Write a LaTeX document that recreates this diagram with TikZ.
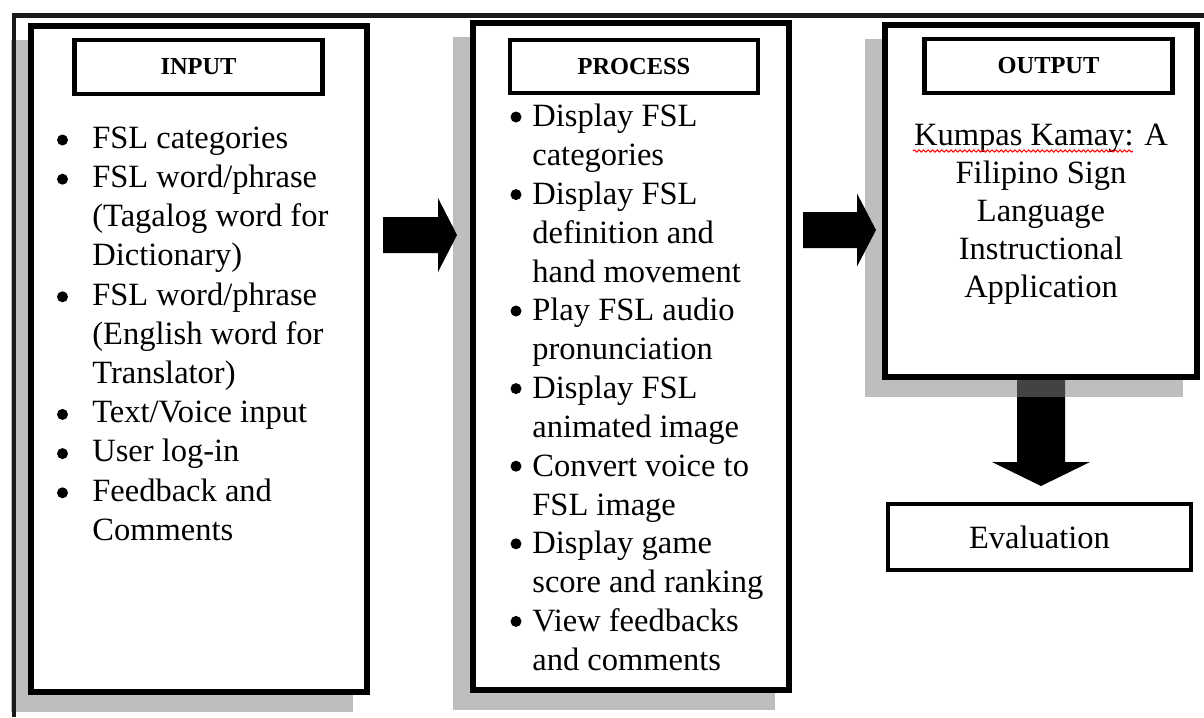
\documentclass[tikz,border=0pt]{standalone}
\usepackage{fontspec}
\setmainfont{Liberation Serif}
\usetikzlibrary{backgrounds,decorations.pathmorphing}

\newcommand{\itemfont}{\fontsize{18.5}{22.2}\selectfont}

\tikzstyle{bigbox}=[draw,line width=3.7pt,fill=white,inner sep=0pt]
\tikzstyle{headbox}=[draw,line width=2.5pt,fill=white,minimum width=4.96cm,minimum height=1.07cm,font=\fontsize{13.9}{16}\selectfont\bfseries]
\tikzstyle{item}=[anchor=base west,align=left,inner sep=0pt,font=\itemfont]
\tikzstyle{dot}=[circle,fill=black,inner sep=0pt,minimum size=0.22cm]
\tikzstyle{shade}=[fill=black!49,opacity=0.52]

\begin{document}
\begin{tikzpicture}[x=0.02cm,y=-0.02cm]
    \useasboundingbox (0,0) rectangle (1204,717);

    % frame round the whole thing
    \draw [line width=2.8pt,black!90] (14,717) -- (14,15.5) -- (1204,15.5);

    % the three columns
    \node (input) at (199,359) [bigbox,minimum width=6.72cm,minimum height=13.32cm] {};
    \node (process) at (631,356.5) [bigbox,minimum width=6.32cm,minimum height=13.34cm] {};
    \node (output) at (1041,201) [bigbox,minimum width=6.24cm,minimum height=7.04cm] {};

    \node (inhead) at (198.5,67) [headbox] {INPUT};
    \node (prochead) at (634,66.5) [headbox] {PROCESS};
    \node (outhead) at (1048.5,66) [headbox] {OUTPUT};

    % input list: bullet line / last line / text
    \foreach \k/\m/\txt [count=\i] in {0/0/{FSL categories}, 1/3/{FSL word/phrase\\(Tagalog word for\\Dictionary)}, 4/6/{FSL word/phrase\\(English word for\\Translator)}, 7/7/{Text/Voice input}, 8/8/{User log-in}, 9/10/{Feedback and\\Comments}}
    {
        \node (inb\i) at (62.5,{140+39.2*\k}) [dot] {};
        \node (in\i) at (92,{148+39.2*\m}) [item] {\txt};
    }

    % process list
    \foreach \k/\m/\txt [count=\i] in {0/1/{Display FSL\\categories}, 2/4/{Display FSL\\definition and\\hand movement}, 5/6/{Play FSL audio\\pronunciation}, 7/8/{Display FSL\\animated image}, 9/10/{Convert voice to\\FSL image}, 11/12/{Display game\\score and ranking}, 13/14/{View feedbacks\\and comments}}
    {
        \node (pb\i) at (516,{117+38.8*\k}) [dot] {};
        \node (p\i) at (532,{127+38.8*\m}) [item] {\txt};
    }

    % output text
    \node (title) at (1041,297) [anchor=base,align=center,inner sep=0pt,font=\fontsize{18.5}{21.6}\selectfont] {Kumpas Kamay: A\\Filipino Sign\\Language\\Instructional\\Application};
    \draw [red,line width=0.6pt,decorate,decoration={snake,amplitude=0.6pt,segment length=2.6pt}] (913,151) -- (1133,151);

    \node (eval) at (1039.5,537) [draw,line width=2.3pt,minimum width=6.06cm,minimum height=1.32cm,font=\itemfont] {Evaluation};

    % block arrows
    \coordinate (a1) at (383,235);
    \coordinate (a2) at (803,230);
    \coordinate (a3) at (1041,375);
    \fill (a1) ++(0,-18) -- ++(55,0) -- ++(0,-19) -- ++(19,37) -- ++(-19,37) -- ++(0,-19) -- ++(-55,0) -- cycle;
    \fill (a2) ++(0,-18) -- ++(54,0) -- ++(0,-18.5) -- ++(19,36.5) -- ++(-19,36.5) -- ++(0,-18.5) -- ++(-54,0) -- cycle;

    \begin{scope}[on background layer]
        \fill (a3) ++(-24,0) -- ++(0,87) -- ++(-25,0) -- ++(49,24) -- ++(49,-24) -- ++(-25,0) -- ++(0,-87) -- cycle;
        % shadows
        \fill [shade] ([shift={(-17,17)}]input.north west) rectangle ([shift={(-17,17)}]input.south east);
        \fill [shade] ([shift={(-17,17)}]process.north west) rectangle ([shift={(-17,17)}]process.south east);
        \fill [shade] ([shift={(-17,17)}]output.north west) rectangle ([shift={(-17,17)}]output.south east);
    \end{scope}
\end{tikzpicture}
\end{document}
